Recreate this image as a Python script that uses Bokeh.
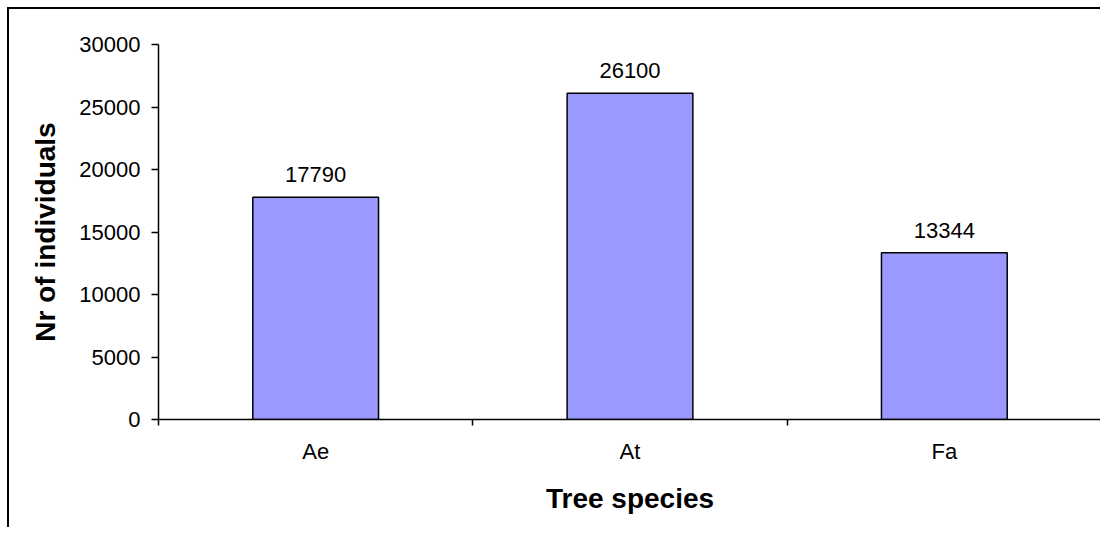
from bokeh.plotting import figure
from bokeh.models import ColumnDataSource, FixedTicker, LabelSet, Range1d
from bokeh.core.properties import value
from bokeh.embed import file_html
from bokeh.resources import INLINE

species = ["Ae", "At", "Fa"]
counts = [17790, 26100, 13344]
y_ticks = [0, 5000, 10000, 15000, 20000, 25000, 30000]

centers = [i + 0.5 for i in range(len(species))]
src = ColumnDataSource(dict(x=centers, top=counts, label=[str(c) for c in counts]))

FONT = "Liberation Sans"

p = figure(width=1093, height=520, output_backend="svg", toolbar_location=None,
           x_range=Range1d(0, len(species)), y_range=Range1d(0, 30000),
           min_border_left=149, min_border_right=1, min_border_top=35, min_border_bottom=110)
p.styles = {"margin-left": "7px", "margin-top": "7px",
            "border-left": "2px solid black", "border-top": "2px solid black"}
p.outline_line_color = None
p.xgrid.grid_line_color = None
p.ygrid.grid_line_color = None
p.background_fill_color = "white"
p.border_fill_color = "white"

p.vbar(x="x", top="top", width=0.4, bottom=0, source=src,
       fill_color="#9999FF", line_color="black", line_width=1.5)

labels = LabelSet(x="x", y="top", text="label", source=src, text_align="center",
                  text_baseline="alphabetic", y_offset=15, text_font=value(FONT),
                  text_font_size="22px", text_color="black")
p.add_layout(labels)

# x axis
xa = p.xaxis[0]
xa.ticker = FixedTicker(ticks=centers, minor_ticks=list(range(len(species) + 1)))
xa.major_label_overrides = {c: s for c, s in zip(centers, species)}
xa.major_tick_line_color = None
xa.major_tick_out = 0
xa.major_tick_in = 0
xa.minor_tick_line_color = "black"
xa.minor_tick_line_width = 1.5
xa.minor_tick_out = 6
xa.minor_tick_in = 0
xa.axis_line_color = "black"
xa.axis_line_width = 1.5
xa.major_label_text_font = FONT
xa.major_label_text_font_size = "22px"
xa.major_label_text_color = "black"
xa.major_label_standoff = 13
xa.axis_label = "Tree species"
xa.axis_label_text_font = FONT
xa.axis_label_text_font_size = "28px"
xa.axis_label_text_font_style = "bold"
xa.axis_label_text_color = "black"
xa.axis_label_standoff = 16

# y axis
ya = p.yaxis[0]
ya.ticker = FixedTicker(ticks=y_ticks)
ya.major_tick_out = 7
ya.major_tick_in = 0
ya.major_tick_line_width = 1.5
ya.minor_tick_line_color = None
ya.axis_line_width = 1.5
ya.major_label_text_font = FONT
ya.major_label_text_font_size = "22px"
ya.major_label_text_color = "black"
ya.major_label_standoff = 11
ya.axis_label = "Nr of individuals"
ya.axis_label_text_font = FONT
ya.axis_label_text_font_size = "28px"
ya.axis_label_text_font_style = "bold"
ya.axis_label_text_color = "black"
ya.axis_label_standoff = 15

open("out.html", "w").write(file_html(p, INLINE))
